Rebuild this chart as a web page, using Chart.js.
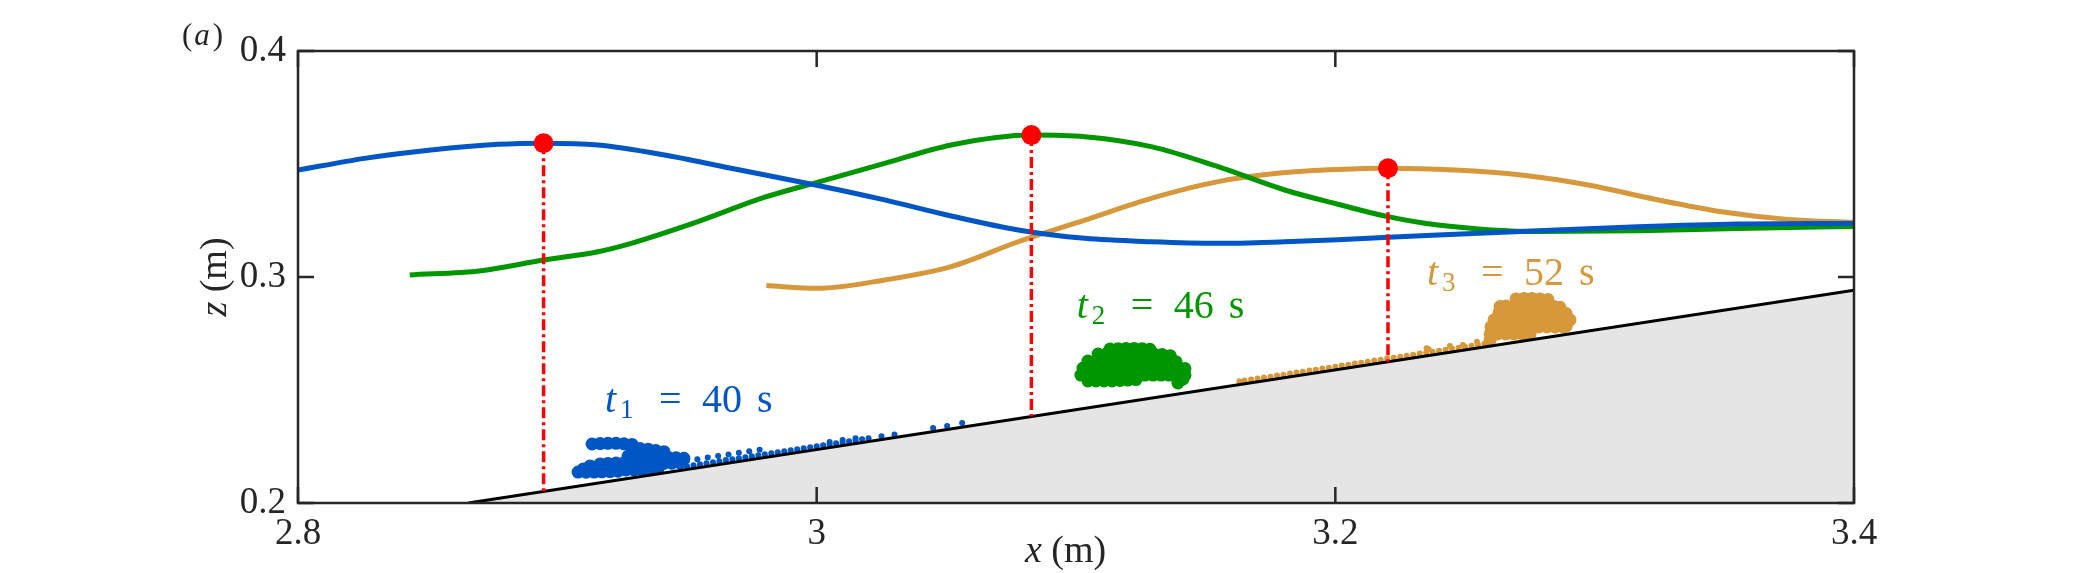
<!DOCTYPE html>
<html><head><meta charset="utf-8">
<script src="https://cdn.jsdelivr.net/npm/chart.js@4.4.1/dist/chart.umd.min.js"></script>
<style>html,body{margin:0;padding:0;background:#fff;}#wrap{width:2084px;height:573px;}</style>
</head><body><div id="wrap"><canvas id="c" width="2084" height="573"></canvas></div>
<script>
// ---- ticks ----
const xTickValues = [2.8, 3.0, 3.2, 3.4];
const xTickLabels = ['2.8', '3', '3.2', '3.4'];
const zTickValues = [0.2, 0.3, 0.4];
const zTickLabels = ['0.2', '0.3', '0.4'];

// ---- free-surface profiles ----
const blueX = [2.8000, 2.8257, 2.8513, 2.8771, 2.8947, 2.9157, 2.9414, 2.9670, 3.0005, 3.0262, 3.0519, 3.0777, 3.1034, 3.1290, 3.1548, 3.1805, 3.2010, 3.2396, 3.2782, 3.3167, 3.3553, 3.4000];
const blueZ = [0.3473, 0.3525, 0.3562, 0.3587, 0.3592, 0.3584, 0.3540, 0.3481, 0.3405, 0.3341, 0.3270, 0.3208, 0.3171, 0.3156, 0.3149, 0.3156, 0.3165, 0.3186, 0.3205, 0.3222, 0.3234, 0.3237];
const greenX = [2.8431, 2.8707, 2.8947, 2.9157, 2.9285, 2.9542, 2.9800, 3.0005, 3.0262, 3.0519, 3.0828, 3.1034, 3.1290, 3.1548, 3.1805, 3.2010, 3.2203, 3.2396, 3.2782, 3.3167, 3.3553, 3.4000];
const greenZ = [0.3009, 0.3028, 0.3075, 0.3112, 0.3149, 0.3245, 0.3353, 0.3420, 0.3503, 0.3584, 0.3628, 0.3621, 0.3577, 0.3488, 0.3385, 0.3322, 0.3267, 0.3230, 0.3201, 0.3205, 0.3215, 0.3224];
const orangeX = [2.9806, 3.0005, 3.0262, 3.0519, 3.0777, 3.1034, 3.1290, 3.1548, 3.1805, 3.2010, 3.2203, 3.2460, 3.2717, 3.2975, 3.3232, 3.3489, 3.3745, 3.4000];
const orangeZ = [0.2962, 0.2950, 0.2987, 0.3046, 0.3156, 0.3252, 0.3348, 0.3422, 0.3462, 0.3476, 0.3481, 0.3473, 0.3451, 0.3407, 0.3344, 0.3289, 0.3255, 0.3242];

// ---- wave crests and the bed below them ----
const crestX = [2.8947, 3.0828, 3.2203];
const crestZ = [0.3592, 0.3628, 0.3481];
const crestBedZ = [0.2051, 0.2383, 0.2625];

// ---- sloping bed ----
const bedX = [2.8657, 3.4000];
const bedZ = [0.2000, 0.2942];

// ---- particle clouds [x, z] ----
const blueCloud = [
 [2.9134,0.2261],[2.9165,0.2263],[2.9195,0.2264],[2.9226,0.2264],[2.9257,0.2262],[2.9288,0.2259],
 [2.9288,0.2243],[2.9319,0.2241],[2.9350,0.2238],[2.9380,0.2232],[2.9411,0.2227],
 [2.9273,0.2208],[2.9303,0.2208],[2.9334,0.2208],[2.9365,0.2206],[2.9396,0.2204],[2.9427,0.2202],[2.9458,0.2200],[2.9488,0.2198],
 [2.9165,0.2173],[2.9195,0.2175],[2.9226,0.2177],[2.9257,0.2178],[2.9288,0.2178],[2.9319,0.2176],[2.9350,0.2175],[2.9380,0.2175],[2.9411,0.2175],[2.9442,0.2176],[2.9473,0.2177],
 [2.9265,0.2146],[2.9296,0.2146],[2.9327,0.2148],[2.9357,0.2150],[2.9388,0.2152],
 [2.9080,0.2137],[2.9111,0.2136],[2.9142,0.2137],[2.9172,0.2138],[2.9203,0.2139],[2.9234,0.2141],
 [2.9126,0.2164],[2.9100,0.2150]
];
const blueFilm = [
 [2.9500,0.2163],[2.9525,0.2167],[2.9550,0.2172],[2.9575,0.2176],[2.9600,0.2180],[2.9625,0.2185],[2.9650,0.2190],[2.9675,0.2194],[2.9700,0.2198],[2.9725,0.2202],[2.9750,0.2207],[2.9775,0.2211],[2.9800,0.2216],[2.9825,0.2220],[2.9850,0.2225],[2.9875,0.2229],[2.9900,0.2233],[2.9925,0.2238],[2.9950,0.2242],[2.9975,0.2247],[3.0000,0.2251],[3.0025,0.2255],[3.0050,0.2260],[3.0075,0.2264],[3.0100,0.2268],[3.0125,0.2273],[3.0150,0.2277],[3.0175,0.2282],[3.0200,0.2286],[3.0250,0.2295],[3.0300,0.2303],
 [2.9500,0.2187],[2.9540,0.2194],[2.9580,0.2201],[2.9620,0.2208],[2.9660,0.2215],[2.9700,0.2222],[2.9740,0.2229],[2.9780,0.2236],
 [3.0050,0.2270],[3.0100,0.2279],[3.0150,0.2287],
 [3.0449,0.2332],[3.0503,0.2341],[3.0561,0.2354]
];
const greenCloud = [
 [3.1131,0.2681],[3.1162,0.2683],[3.1193,0.2684],[3.1224,0.2684],[3.1255,0.2683],[3.1285,0.2680],
 [3.1085,0.2659],[3.1116,0.2659],[3.1147,0.2659],[3.1177,0.2659],[3.1208,0.2659],[3.1239,0.2659],[3.1270,0.2659],[3.1301,0.2659],[3.1332,0.2657],[3.1363,0.2652],
 [3.1046,0.2628],[3.1077,0.2628],[3.1108,0.2628],[3.1139,0.2628],[3.1170,0.2628],[3.1200,0.2628],[3.1231,0.2628],[3.1262,0.2628],[3.1293,0.2628],[3.1324,0.2628],[3.1355,0.2628],[3.1386,0.2625],
 [3.1027,0.2597],[3.1058,0.2597],[3.1089,0.2597],[3.1120,0.2597],[3.1150,0.2597],[3.1181,0.2597],[3.1212,0.2597],[3.1243,0.2597],[3.1274,0.2597],[3.1304,0.2597],[3.1335,0.2597],[3.1366,0.2597],[3.1397,0.2597],[3.1420,0.2595],
 [3.1019,0.2566],[3.1050,0.2566],[3.1081,0.2566],[3.1112,0.2566],[3.1143,0.2566],[3.1173,0.2566],[3.1204,0.2566],[3.1235,0.2566],[3.1266,0.2566],[3.1297,0.2566],[3.1328,0.2566],[3.1358,0.2566],[3.1389,0.2566],[3.1416,0.2570],
 [3.1046,0.2540],[3.1077,0.2540],[3.1108,0.2540],[3.1139,0.2540],[3.1170,0.2542],[3.1200,0.2544],[3.1231,0.2546],
 [3.1393,0.2531],[3.1412,0.2548],[3.1420,0.2565]
];
const orangeCloud = [
 [3.2697,0.2903],[3.2728,0.2905],[3.2758,0.2905],[3.2789,0.2903],[3.2820,0.2900],
 [3.2658,0.2872],[3.2689,0.2872],[3.2720,0.2872],[3.2751,0.2872],[3.2781,0.2872],[3.2812,0.2872],[3.2843,0.2870],[3.2866,0.2866],
 [3.2631,0.2841],[3.2662,0.2841],[3.2693,0.2841],[3.2724,0.2841],[3.2754,0.2841],[3.2785,0.2841],[3.2816,0.2841],[3.2847,0.2841],[3.2878,0.2841],[3.2890,0.2838],
 [3.2612,0.2810],[3.2643,0.2810],[3.2674,0.2810],[3.2704,0.2810],[3.2735,0.2810],[3.2766,0.2810],[3.2797,0.2810],[3.2828,0.2810],[3.2859,0.2810],[3.2890,0.2810],[3.2905,0.2810],
 [3.2600,0.2779],[3.2631,0.2779],[3.2662,0.2779],[3.2693,0.2779],[3.2724,0.2779],[3.2754,0.2779],[3.2785,0.2779],[3.2816,0.2779],[3.2847,0.2779],[3.2878,0.2779],[3.2890,0.2782],
 [3.2597,0.2748],[3.2627,0.2748],[3.2658,0.2748],[3.2689,0.2748],[3.2720,0.2748],[3.2751,0.2748],
 [3.2597,0.2721],[3.2635,0.2869]
];
const orangeFilm = [
 [3.1630,0.2539],[3.1650,0.2542],[3.1675,0.2546],[3.1700,0.2551],[3.1725,0.2555],[3.1750,0.2559],[3.1775,0.2564],[3.1800,0.2568],[3.1825,0.2573],[3.1850,0.2577],[3.1875,0.2581],[3.1900,0.2586],[3.1925,0.2590],[3.1950,0.2595],[3.1975,0.2599],[3.2000,0.2603],[3.2025,0.2608],[3.2050,0.2612],[3.2075,0.2617],[3.2100,0.2621],[3.2125,0.2625],[3.2150,0.2630],[3.2175,0.2634],[3.2200,0.2639],[3.2225,0.2643],[3.2250,0.2647],[3.2275,0.2652],[3.2300,0.2656],[3.2325,0.2661],[3.2350,0.2665],[3.2375,0.2669],[3.2400,0.2674],[3.2425,0.2678],[3.2450,0.2683],[3.2475,0.2687],[3.2500,0.2691],[3.2525,0.2696],[3.2550,0.2700],[3.2575,0.2705],
 [3.2352,0.2685],[3.2360,0.2680],[3.2442,0.2695],[3.2492,0.2699],[3.2546,0.2714]
];

// ---- labels ----
const labelSub = ['1', '2', '3'];
const labelNum = ['40', '46', '52'];
const labelX = [2.9184, 3.1003, 3.2353];
const labelZ = [0.2404, 0.2817, 0.2965];

const COL_BLUE = '#0056C4', COL_GREEN = '#009600', COL_ORANGE = '#D6983A', COL_RED = '#FF0000';
const AXC = '#262626';
const SERIF = '"Liberation Serif", "Times New Roman", serif';
const labelColors = [COL_BLUE, COL_GREEN, COL_ORANGE];

const pts = (xs, zs) => xs.map((x, i) => ({x: x, y: zs[i]}));
const pairs = (arr) => arr.map(p => ({x: p[0], y: p[1]}));

const datasets = [];
datasets.push({data: pts(crestX, crestZ), pointRadius: 10, pointBackgroundColor: COL_RED, pointBorderWidth: 0, showLine: false, order: 0});
crestX.forEach((x, i) => {
  datasets.push({data: [{x: x, y: crestZ[i]}, {x: x, y: crestBedZ[i]}], showLine: true, borderColor: COL_RED, borderWidth: 3.5,
    borderDash: [11, 4, 3, 4], pointRadius: 0, order: 1});
});
[[blueX, blueZ, COL_BLUE], [greenX, greenZ, COL_GREEN], [orangeX, orangeZ, COL_ORANGE]].forEach(s => {
  datasets.push({data: pts(s[0], s[1]), showLine: true, borderColor: s[2], borderWidth: 5, pointRadius: 0,
    cubicInterpolationMode: 'monotone', order: 2});
});
datasets.push({data: pts(bedX, bedZ), showLine: true, borderColor: '#000000', borderWidth: 3, pointRadius: 0,
  fill: 'start', backgroundColor: '#E5E5E5', order: 3});
[[blueCloud, COL_BLUE, 6.5], [blueFilm, COL_BLUE, 3], [greenCloud, COL_GREEN, 6.5], [orangeCloud, COL_ORANGE, 6.5], [orangeFilm, COL_ORANGE, 3]].forEach(c => {
  datasets.push({data: pairs(c[0]), showLine: false, pointRadius: c[2], pointBackgroundColor: c[1], pointBorderWidth: 0, order: 4});
});

const framePlugin = {
  id: 'frame',
  afterDatasetsDraw(chart) {
    const {ctx, chartArea: a, scales} = chart;
    ctx.save();
    ctx.strokeStyle = AXC; ctx.lineWidth = 2.5;
    ctx.beginPath();
    const TL = 16;
    xTickValues.forEach(v => {
      const px = scales.x.getPixelForValue(v);
      ctx.moveTo(px, a.bottom); ctx.lineTo(px, a.bottom - TL);
      ctx.moveTo(px, a.top); ctx.lineTo(px, a.top + TL);
    });
    zTickValues.forEach(v => {
      const py = scales.y.getPixelForValue(v);
      ctx.moveTo(a.left, py); ctx.lineTo(a.left + TL, py);
      ctx.moveTo(a.right, py); ctx.lineTo(a.right - TL, py);
    });
    ctx.stroke();
    ctx.strokeRect(a.left, a.top, a.right - a.left, a.bottom - a.top);
    ctx.restore();
  },
  afterDraw(chart) {
    const {ctx, scales} = chart;
    ctx.save();
    ctx.textAlign = 'left'; ctx.textBaseline = 'alphabetic';
    labelX.forEach((lx, i) => {
      const x = scales.x.getPixelForValue(lx), y = scales.y.getPixelForValue(labelZ[i]);
      ctx.fillStyle = labelColors[i];
      ctx.font = 'italic 40px ' + SERIF; ctx.fillText('t', x, y);
      ctx.font = '27px ' + SERIF; ctx.fillText(labelSub[i], x + 15, y + 6);
      ctx.font = '40px ' + SERIF; ctx.fillText('=', x + 54, y);
      ctx.fillText(labelNum[i], x + 97, y);
      ctx.fillText('s', x + 152, y);
    });
    ctx.fillStyle = AXC;
    ctx.font = 'italic 38px ' + SERIF;
    ctx.fillText('x', 1025, 562);
    let w = ctx.measureText('x').width;
    ctx.font = '38px ' + SERIF;
    ctx.fillText(' (m)', 1025 + w, 562);
    ctx.save();
    ctx.translate(226, 277); ctx.rotate(-Math.PI / 2);
    ctx.font = 'italic 38px ' + SERIF;
    const wz = ctx.measureText('z').width;
    ctx.font = '38px ' + SERIF;
    const wr = ctx.measureText(' (m)').width;
    const sx = -(wz + wr) / 2;
    ctx.font = 'italic 38px ' + SERIF; ctx.fillText('z', sx, 0);
    ctx.font = '38px ' + SERIF; ctx.fillText(' (m)', sx + wz, 0);
    ctx.restore();
    ctx.font = '31px ' + SERIF; ctx.fillText('(', 182, 45);
    let w1 = ctx.measureText('(').width;
    ctx.font = 'italic 31px ' + SERIF; ctx.fillText('a', 182 + w1 + 2, 45);
    let w2 = ctx.measureText('a').width;
    ctx.font = '31px ' + SERIF; ctx.fillText(')', 182 + w1 + w2 + 5, 45);
    ctx.restore();
  }
};

new Chart(document.getElementById('c'), {
  type: 'scatter',
  data: {datasets: datasets},
  options: {
    responsive: false, animation: false, devicePixelRatio: 1,
    layout: {padding: {left: 0, right: 230, top: 51, bottom: 0}},
    plugins: {legend: {display: false}, tooltip: {enabled: false}},
    scales: {
      x: {
        type: 'linear', min: 2.8, max: 3.4,
        grid: {display: false, drawTicks: false}, border: {display: false},
        afterBuildTicks: s => { s.ticks = xTickValues.map(v => ({value: v})); },
        afterFit: s => { s.height = 70; },
        ticks: {padding: 9, color: AXC, font: {family: SERIF, size: 37},
          callback: (v, i) => xTickLabels[i], maxRotation: 0, autoSkip: false}
      },
      y: {
        type: 'linear', min: 0.2, max: 0.4,
        grid: {display: false, drawTicks: false}, border: {display: false},
        afterBuildTicks: s => { s.ticks = zTickValues.map(v => ({value: v})); },
        afterFit: s => { s.width = 298; },
        ticks: {padding: 12, color: AXC, font: {family: SERIF, size: 37},
          callback: (v, i) => zTickLabels[i], autoSkip: false}
      }
    }
  },
  plugins: [framePlugin]
});
</script></body></html>
